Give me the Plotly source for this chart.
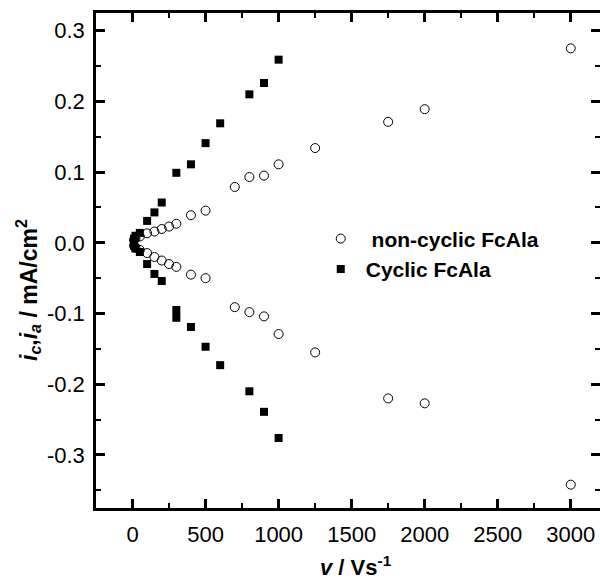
import plotly.graph_objects as go

# Non-cyclic FcAla (open circles)
nc_v = [10, 20, 50, 100, 150, 200, 250, 300, 400, 500, 700, 800, 900, 1000, 1250, 1750, 2000, 3000]
nc_ia = [0.004, 0.006, 0.009, 0.0135, 0.016, 0.0195, 0.023, 0.027, 0.039, 0.0455, 0.079, 0.093, 0.095, 0.111, 0.134, 0.171, 0.189, 0.275]
nc_ic = [-0.004, -0.007, -0.010, -0.0145, -0.020, -0.025, -0.030, -0.034, -0.045, -0.050, -0.091, -0.098, -0.104, -0.129, -0.155, -0.220, -0.227, -0.342]

# Cyclic FcAla (filled squares)
cy_pos_v = [10, 20, 50, 100, 150, 200, 300, 400, 500, 600, 800, 900, 1000]
cy_pos_i = [0.006, 0.010, 0.014, 0.031, 0.043, 0.057, 0.099, 0.111, 0.141, 0.169, 0.210, 0.226, 0.259]
cy_neg_v = [10, 20, 50, 100, 150, 200, 300, 300, 400, 500, 600, 800, 900, 1000]
cy_neg_i = [-0.004, -0.008, -0.013, -0.030, -0.044, -0.054, -0.095, -0.106, -0.119, -0.147, -0.173, -0.210, -0.239, -0.276]

x_ticks = [0, 500, 1000, 1500, 2000, 2500, 3000]
x_ticktext = ["0", "500", "1000", "1500", "2000", "2500", "3000"]
y_ticks = [-0.3, -0.2, -0.1, 0.0, 0.1, 0.2, 0.3]
y_ticktext = ["-0.3", "-0.2", "-0.1", "0.0", "0.1", "0.2", "0.3"]

FONT = "Liberation Sans, Arial, sans-serif"

fig = go.Figure()
fig.add_trace(go.Scatter(
    x=cy_pos_v + cy_neg_v, y=cy_pos_i + cy_neg_i, mode="markers",
    name="Cyclic FcAla", legendrank=2,
    marker=dict(symbol="square", size=8, color="black", line=dict(width=0)),
))
fig.add_trace(go.Scatter(
    x=nc_v + nc_v, y=nc_ia + nc_ic, mode="markers",
    name="\u00a0non-cyclic FcAla", legendrank=1,
    marker=dict(symbol="circle-open", size=9, color="black", line=dict(width=1)),
))

axis_common = dict(
    showline=True, linecolor="black", linewidth=2.5, mirror="ticks",
    ticks="inside", ticklen=9, tickwidth=2.5, tickcolor="black",
    showgrid=False, zeroline=False, automargin=False,
    tickfont=dict(family=FONT, size=22, color="black"),
)

fig.update_xaxes(
    range=[-250, 3200], tickmode="array", tickvals=x_ticks, ticktext=x_ticktext,
    minor=dict(ticks="inside", ticklen=5, tickwidth=2, tickcolor="black", dtick=250, tick0=0, showgrid=False),
    ticklabelstandoff=5,
    **axis_common,
)
fig.update_yaxes(
    range=[-0.375, 0.325], tickmode="array", tickvals=y_ticks, ticktext=y_ticktext,
    minor=dict(ticks="inside", ticklen=5, tickwidth=2, tickcolor="black", dtick=0.05, tick0=0, showgrid=False),
    ticklabelstandoff=4,
    **axis_common,
)

fig.update_layout(
    width=600, height=579,
    margin=dict(l=96, r=0, t=13, b=71),
    paper_bgcolor="white", plot_bgcolor="white",
    showlegend=True,
    legend=dict(
        x=0.436, y=0.585, xanchor="left", yanchor="top",
        bgcolor="rgba(0,0,0,0)", borderwidth=0, itemwidth=40,
        font=dict(family=FONT, size=21, color="black", weight="bold"),
        itemsizing="trace",
    ),
    annotations=[
        dict(
            text="<b><i>v</i> / Vs<sup>-1</sup></b>", xref="paper", yref="paper",
            x=(356 - 96) / 504, y=-(566 - 508) / 495, xanchor="center", yanchor="middle",
            showarrow=False, font=dict(family=FONT, size=22, color="black"),
        ),
        dict(
            text="<b><i>i</i><sub><i>c</i></sub>,<i>i</i><sub><i>a</i></sub> / mA/cm<sup>2</sup></b>",
            xref="paper", yref="paper", textangle=-90,
            x=-(96 - 28) / 504, y=(508 - 290) / 495, xanchor="center", yanchor="middle",
            showarrow=False, font=dict(family=FONT, size=23, color="black"),
        ),
    ],
)

fig.write_html(
    "out.html",
    config={"displayModeBar": False},
    post_script="document.body.style.margin='0px';document.body.style.overflow='hidden';",
)
